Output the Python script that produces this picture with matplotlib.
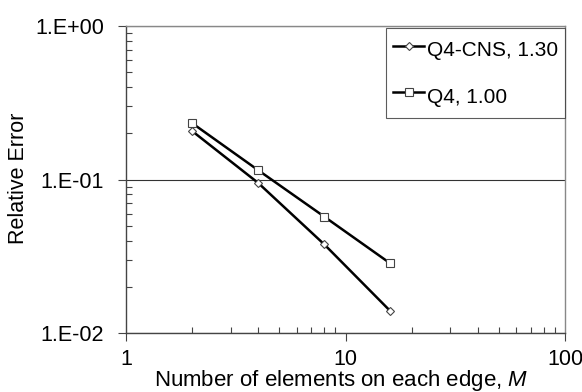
import numpy as np
import matplotlib
matplotlib.use("Agg")
from matplotlib import pyplot as plt
from matplotlib.ticker import FixedLocator, LogLocator, NullFormatter

plt.rcParams['font.family'] = ['Liberation Sans', 'DejaVu Sans']
plt.rcParams['mathtext.fontset'] = 'custom'
plt.rcParams['mathtext.it'] = 'Liberation Sans:italic'
plt.rcParams['mathtext.rm'] = 'Liberation Sans'

# data
M = [2, 4, 8, 16]
err_cns = [0.207, 0.095, 0.0378, 0.0139]
err_q4 = [0.233, 0.115, 0.0573, 0.0284]
labels = ['Q4-CNS, 1.30', 'Q4, 1.00']

fig = plt.figure(figsize=(5.82, 3.92), dpi=100)
ax = fig.add_axes([126/582, 1 - 333/392, (565-126)/582, (333-26)/392])

ax.plot(M, err_cns, 'k-', lw=1.8, marker='D', ms=4.5, mfc='white', mec='#444444', mew=0.8, label=labels[0])
ax.plot(M, err_q4, 'k-', lw=1.8, marker='s', ms=6, mfc='white', mec='#444444', mew=0.8, label=labels[1])

ax.set_xscale('log')
ax.set_yscale('log')
ax.set_xlim(1, 100)
ax.set_ylim(0.01, 1)

ax.yaxis.set_major_locator(FixedLocator([0.01, 0.1, 1]))
ax.set_yticklabels(['1.E-02', '1.E-01', '1.E+00'])
ax.yaxis.set_minor_locator(LogLocator(base=10, subs=np.arange(2, 10)))
ax.yaxis.set_minor_formatter(NullFormatter())
ax.xaxis.set_major_locator(FixedLocator([1, 10, 100]))
ax.set_xticklabels(['1', '10', '100'])
ax.xaxis.set_minor_locator(LogLocator(base=10, subs=np.arange(2, 10)))
ax.xaxis.set_minor_formatter(NullFormatter())

ax.tick_params(which='major', direction='out', length=6, width=0.8, color='#444444', labelsize=15.5)
ax.tick_params(which='minor', direction='in', length=4, width=0.8, color='#444444')
ax.tick_params(axis='y', which='major', pad=10)
ax.tick_params(axis='x', which='major', pad=5.5)

ax.grid(axis='y', which='major', color='#333333', lw=0.8)
for s in ['left', 'bottom']:
    ax.spines[s].set_color('#444444')
    ax.spines[s].set_linewidth(1.0)
for s in ['top', 'right']:
    ax.spines[s].set_color('#888888')
    ax.spines[s].set_linewidth(1.0)

xl = ax.set_xlabel('Number of elements on each edge, $M$', fontsize=16)
xl.set_va('baseline')
ax.xaxis.set_label_coords(0.491, -0.173)
ax.set_ylabel('Relative Error', fontsize=15.5)
ax.yaxis.set_label_coords(-0.221, 0.503)

leg = ax.legend(loc='upper right', bbox_to_anchor=(1.0, 0.994), fontsize=15, frameon=True,
                fancybox=False, edgecolor='#333333', handlelength=1.45, handletextpad=0.14,
                handleheight=1.75, labelspacing=0.85, borderpad=0.35, borderaxespad=0.0)
leg.get_frame().set_linewidth(0.8)

fig.savefig('out.png', dpi=100)
